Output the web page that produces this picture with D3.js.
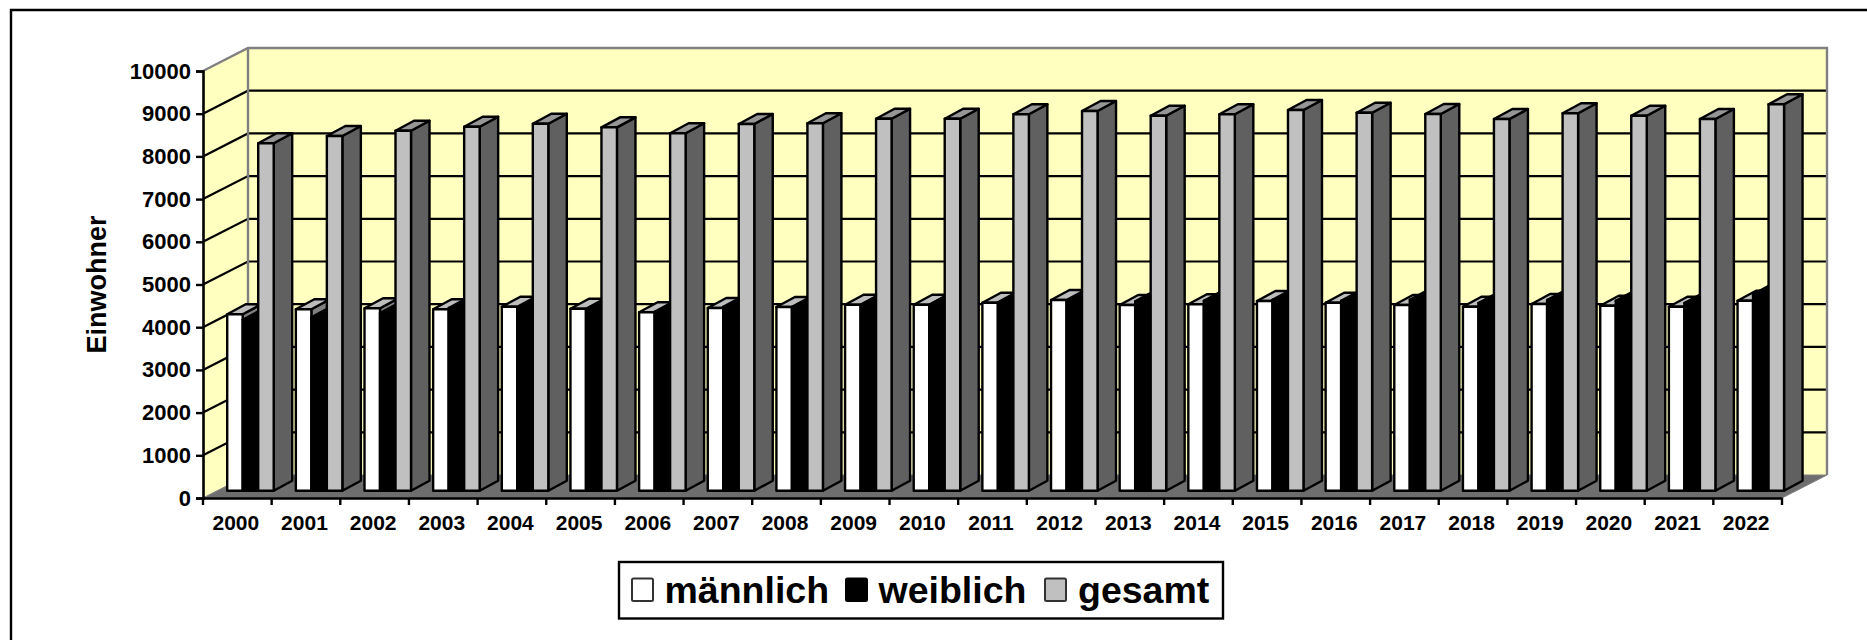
<!DOCTYPE html>
<html lang="de">
<head>
<meta charset="utf-8">
<script src="https://cdn.jsdelivr.net/npm/d3@7/dist/d3.min.js"></script>
<style>
html,body{margin:0;padding:0;background:#fff;overflow:hidden}
svg{display:block}
text{font-family:"Liberation Sans",Arial,sans-serif;font-weight:700;fill:#000}
</style>
</head>
<body>
<svg id="c" width="1867" height="640"></svg>
<script>
const years = ["2000","2001","2002","2003","2004","2005","2006","2007","2008","2009","2010","2011","2012","2013","2014","2015","2016","2017","2018","2019","2020","2021","2022"];
const maennlich = [4131,4248,4272,4248,4309,4262,4178,4279,4302,4356,4356,4403,4466,4349,4365,4443,4403,4349,4309,4372,4333,4309,4450];
const weiblich  = [4005,4059,4159,4277,4286,4248,4192,4309,4302,4356,4356,4412,4426,4433,4450,4472,4449,4473,4396,4466,4449,4396,4599];
const gesamt    = [8136,8307,8431,8525,8595,8510,8370,8588,8604,8712,8712,8815,8892,8782,8815,8915,8852,8822,8705,8838,8782,8705,9049];
const seriesNames = ["männlich","weiblich","gesamt"];
const seriesValues = [maennlich,weiblich,gesamt];
const frontColors = ["#ffffff","#000000","#c0c0c0"];
const topColors   = ["#bdbdbd","#000000","#969696"];
const sideColors  = ["#808080","#000000","#606060"];
const yTicks = [0,1000,2000,3000,4000,5000,6000,7000,8000,9000,10000];

const svg = d3.select("#c");
const x = d3.scaleBand().domain(years).range([203,1782]);
const y = d3.scaleLinear().domain([0,10000]).range([498,71]);
const s = d3.scaleBand().domain(d3.range(3)).range([0,46.5]);

// projection depths
const wallDx = 45, wallDy = -23;      // full chart depth
const barX = 24.2, barY = -7.3;       // where bar fronts stand
const depthX = 18.5, depthY = -10;    // bar depth
const L = x.range()[0], R = x.range()[1];

// outer frame (top + left only are inside the image)
svg.append("path").attr("d","M1867 10H11V640").attr("fill","none").attr("stroke","#000").attr("stroke-width",2.4);

// walls
const poly = pts => "M"+pts.map(p=>p.join(",")).join("L")+"Z";
svg.append("path").attr("fill","#ffffc0")
  .attr("d",poly([[L,y(0)],[L,y(10000)],[L+wallDx,y(10000)+wallDy],[R+wallDx,y(10000)+wallDy],[R+wallDx,y(0)+wallDy],[L+wallDx,y(0)+wallDy]]));
// floor
svg.append("path").attr("fill","#6e6e6e").attr("stroke","#808080").attr("stroke-width",1)
  .attr("d",poly([[L,y(0)],[L+wallDx,y(0)+wallDy],[R+wallDx,y(0)+wallDy],[R,y(0)]]));
// gridlines
const grid = yTicks.filter(t=>t>0&&t<10000);
svg.append("g").selectAll("path").data(grid).join("path")
  .attr("fill","none").attr("stroke","#000").attr("stroke-width",2.2)
  .attr("d",t=>`M${L},${y(t)}L${L+wallDx},${y(t)+wallDy}H${R+wallDx}`);
// wall outline
svg.append("path").attr("fill","none").attr("stroke","#808080").attr("stroke-width",2.4)
  .attr("d",`M${L},${y(10000)}L${L+wallDx},${y(10000)+wallDy}H${R+wallDx}V${y(0)+wallDy}`);
svg.append("path").attr("fill","none").attr("stroke","#808080").attr("stroke-width",2.4)
  .attr("d",`M${L+wallDx},${y(10000)+wallDy}V${y(0)+wallDy}`);

// bars, painted left to right
const base = y(0)+barY;
const bars = svg.append("g").attr("stroke","#000").attr("stroke-width",2.4).attr("stroke-linejoin","round");
years.forEach((yr,i)=>{
  seriesValues.forEach((vals,k)=>{
    const x0 = x(yr)+barX+s(k), x1 = x0+s.bandwidth();
    const t = y(vals[i])+barY;
    const g = bars.append("g");
    g.append("path").attr("fill",sideColors[k])
      .attr("d",poly([[x1,base],[x1,t],[x1+depthX,t+depthY],[x1+depthX,base+depthY]]));
    g.append("path").attr("fill",topColors[k])
      .attr("d",poly([[x0,t],[x1,t],[x1+depthX,t+depthY],[x0+depthX,t+depthY]]));
    g.append("rect").attr("fill",frontColors[k]).attr("x",x0).attr("y",t).attr("width",x1-x0).attr("height",base-t);
  });
});

// axes
const ax = svg.append("g").attr("transform",`translate(${L},0)`)
  .call(d3.axisLeft(y).tickValues(yTicks).tickSize(7).tickPadding(5).tickFormat(d3.format("d")));
const bx = svg.append("g").attr("transform",`translate(0,${y(0)})`)
  .call(d3.axisBottom(x).tickSize(0).tickPadding(17));
bx.selectAll(".tick line").remove();
bx.append("g").selectAll("line").data(years.map(d=>x(d)).concat([R])).join("line")
  .attr("x1",d=>d).attr("x2",d=>d).attr("y1",0).attr("y2",7).attr("stroke","#000");
ax.selectAll("text").style("font-size","22px");
bx.selectAll("text").style("font-size","21px");
[ax,bx].forEach(a=>{
  a.selectAll("text").style("font-family",'"Liberation Sans",Arial,sans-serif').style("font-weight","700").attr("fill","#000");
  a.selectAll("line").attr("stroke","#000").attr("stroke-width",2.4);
  a.selectAll(".domain").attr("stroke","#000").attr("stroke-width",2.6);
});
bx.selectAll(".tick text").attr("dx",-1.5);

// axis title
svg.append("text").attr("transform","translate(106,284.5) rotate(-90)")
  .attr("text-anchor","middle").style("font-size","27px").text("Einwohner");

// legend
svg.append("rect").attr("x",619).attr("y",562).attr("width",604).attr("height",56.5)
  .attr("fill","#fff").attr("stroke","#000").attr("stroke-width",2.4);
const swatchX = [632,846,1045];
const labelX = [664.5,878.5,1078];
seriesNames.forEach((n,k)=>{
  svg.append("rect").attr("x",swatchX[k]).attr("y",578.5).attr("width",21).attr("height",22.5).attr("rx",1.5)
    .attr("fill",frontColors[k]).attr("stroke",k===1?"#000":"#333").attr("stroke-width",2);
  svg.append("text").attr("x",labelX[k]).attr("y",603).style("font-size","37.5px").text(n);
});
</script>
</body>
</html>
